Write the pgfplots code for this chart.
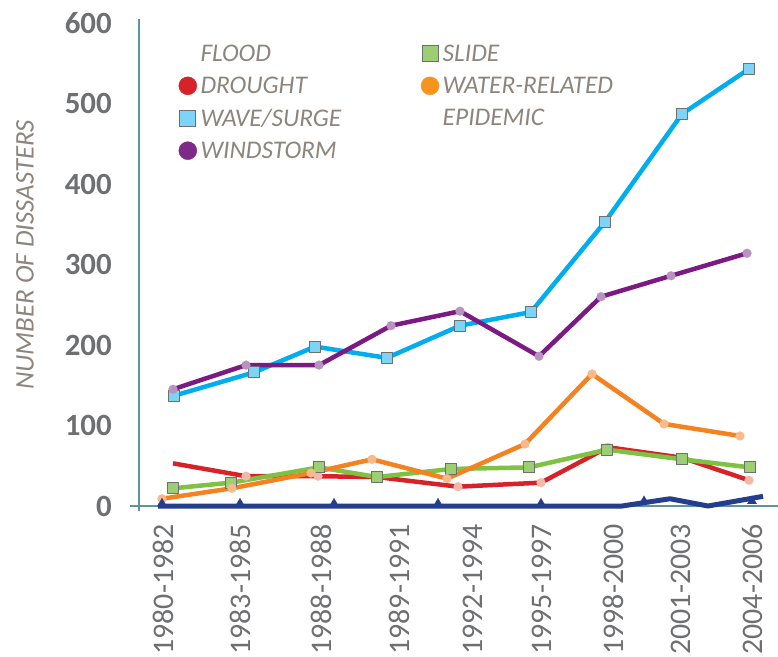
\documentclass[border=0pt]{standalone}
\usepackage{pgfplots}
\pgfplotsset{compat=1.18}
\usepackage{fontspec}
\setmainfont{Carlito}
\definecolor{axisc}{HTML}{5E959C}
\definecolor{tickc}{HTML}{6E6F71}
\definecolor{legc}{HTML}{8D857D}
\definecolor{cWind}{HTML}{7B1A82}
\definecolor{cWindL}{HTML}{B893C0}
\definecolor{cWindLeg}{HTML}{7D2A88}
\definecolor{cWave}{HTML}{00AEEF}
\definecolor{cWaveL}{HTML}{7DD4F7}
\definecolor{cWater}{HTML}{F58220}
\definecolor{cWaterL}{HTML}{F9B98A}
\definecolor{cWaterLeg}{HTML}{F7941D}
\definecolor{cSlide}{HTML}{7DC242}
\definecolor{cSlideL}{HTML}{9CCF74}
\definecolor{cDrought}{HTML}{D7222A}
\definecolor{cDroughtL}{HTML}{F2B8A8}
\definecolor{cFlood}{HTML}{243E8F}
\definecolor{mkedge}{HTML}{6F6F6F}
\begin{document}
\begin{tikzpicture}
\useasboundingbox (0,0) rectangle (778bp,-657bp);
\begin{axis}[
  scale only axis,
  width=639bp, height=487bp,
  anchor=south west, at={(139bp,-506bp)},
  xmin=139, xmax=778, ymin=0, ymax=605,
  axis lines*=left,
  axis line style={axisc, line width=2bp},
  clip=false,
  major tick length=0pt,
  /pgf/number format/assume math mode=true,
  xtick={163,240,321,399,473,542,613,681,753},
  xticklabels={1980-1982,1983-1985,1988-1988,1989-1991,1992-1994,1995-1997,1998-2000,2001-2003,2004-2006},
  xticklabel style={rotate=90, anchor=east, inner sep=0pt, text=tickc, font=\fontsize{30}{30}\selectfont},
  xticklabel shift=18bp,
  ytick={0,100,...,600},
  yticklabel style={anchor=east, inner sep=0pt, text=tickc, font=\bfseries\fontsize{31}{31}\selectfont},
  yticklabel shift=27bp,
  ylabel={NUMBER OF DISSASTERS},
  every axis y label/.style={at={(axis description cs:-0.1784,0.5154)}, rotate=90, anchor=center, text=legc, font=\itshape\fontsize{27}{27}\selectfont},
  legend columns=2,
  legend cell align=left,
  legend style={draw=none, fill=none, at={(axis description cs:0.057,0.9555)}, anchor=north west,
    font=\itshape\fontsize{25.5}{25.5}\selectfont, text=legc,
    row sep=10bp,
    nodes={inner xsep=3.5bp, inner ysep=2bp},
    /tikz/every even column/.append style={column sep=76bp}},
]
\addlegendimage{legend image code/.code={\path (0bp,0bp) (18bp,0bp);}}
\addlegendentry{FLOOD}
\addlegendimage{legend image code/.code={\filldraw[fill=cSlideL,draw=mkedge,line width=1bp] (1bp,-8bp) rectangle (17bp,8bp);}}
\addlegendentry{SLIDE}
\addlegendimage{legend image code/.code={\fill[cDrought] (9bp,0bp) circle[radius=9bp];}}
\addlegendentry{DROUGHT}
\addlegendimage{legend image code/.code={\fill[cWaterLeg] (9bp,0bp) circle[radius=9bp];}}
\addlegendentry{WATER-RELATED}
\addlegendimage{legend image code/.code={\filldraw[fill=cWaveL,draw=mkedge,line width=1bp] (1bp,-8bp) rectangle (17bp,8bp);}}
\addlegendentry{WAVE/SURGE}
\addlegendimage{legend image code/.code={\path (0bp,0bp) (18bp,0bp);}}
\addlegendentry{EPIDEMIC}
\addlegendimage{legend image code/.code={\fill[cWindLeg] (9bp,0bp) circle[radius=9bp];}}
\addlegendentry{WINDSTORM}

% Drought
\addplot[cDrought, line width=4.5bp, line join=round, mark=*, mark size=4.5bp,
  mark indices={2,3,4,5,6,7,8,9}, mark options={solid, fill=cDroughtL, draw=cDroughtL, line width=0.1bp}, forget plot]
  coordinates {(173,53)(246,37)(318,37)(377,36)(458,24)(541,29)(608,73)(682,60)(749,32)};
% Slide
\addplot[cSlide, line width=4.5bp, line join=round, mark=square*, mark size=5.5bp,
  mark options={solid, fill=cSlideL, draw=mkedge, line width=1.2bp}, forget plot]
  coordinates {(173,22)(231,29)(319,48)(377,36)(451,46)(529,48)(607,70)(682,58)(750,48)};
% Water-related
\addplot[cWater, line width=4.5bp, line join=round, mark=*, mark size=4.5bp,
  mark options={solid, fill=cWaterL, draw=cWaterL, line width=0.1bp}, forget plot]
  coordinates {(162,9)(232,22)(311,41)(372,58)(447,34)(525,77)(592,164)(664,102)(740,87)};
% Wave/surge
\addplot[cWave, line width=4.5bp, line join=round, mark=square*, mark size=5.5bp,
  mark options={solid, fill=cWaveL, draw=mkedge, line width=1.2bp}, forget plot]
  coordinates {(174,137)(254,166)(315,198)(387,184)(460,224)(531,241)(605,353)(682,487)(749,543)};
% Windstorm
\addplot[cWind, line width=4.5bp, line join=round, mark=*, mark size=4.5bp,
  mark options={solid, fill=cWindL, draw=cWindL, line width=0.1bp}, forget plot]
  coordinates {(173,145)(246,175)(319,175)(391,224)(460,242)(539,186)(601,260)(671,286)(747,314)};
% Flood line
\addplot[cFlood, line width=5bp, line join=round, forget plot]
  coordinates {(158,0)(622,0)(670,9)(708,0)(763,12)};
\addplot[only marks, mark=triangle*, mark size=5.5bp, mark options={fill=cFlood, draw=cFlood, line width=0.1bp}, forget plot]
  coordinates {(162,3)(240,3)(334,3)(438,3)(541,3)(644,6)(752,6)};

\draw[axisc, line width=2bp] (axis cs:130,0) -- (axis cs:139,0) -- (axis cs:139,-6);
\end{axis}
\end{tikzpicture}
\end{document}
